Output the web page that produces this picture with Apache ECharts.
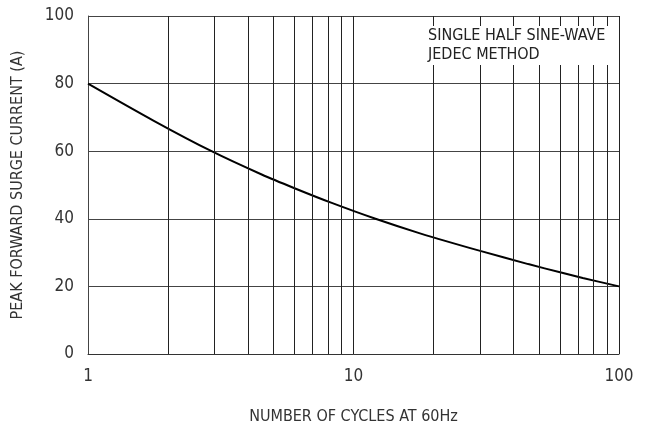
<!DOCTYPE html>
<html>
<head>
<meta charset="utf-8">
<script src="https://cdn.jsdelivr.net/npm/echarts@6/dist/echarts.min.js"></script>
<style>
  html, body { margin: 0; padding: 0; background: #fff; }
  #chart { width: 646px; height: 430px; }
</style>
</head>
<body>
<div id="chart"></div>
<script>
// cycles (log axis) and surge current
var cycles = [1, 1.77, 2.92, 4.51, 6.06, 8.28, 12.1, 17.8, 30, 45.5, 60.5, 73, 100];
var current = [80, 69, 60, 53.1, 48.9, 44.7, 40, 35.7, 30.5, 26.6, 24.1, 22.5, 20];

// minor vertical grid lines
var minorX = [2, 3, 4, 5, 6, 7, 8, 9, 20, 30, 40, 50, 60, 70, 80, 90];
var yTicks = [0, 20, 40, 60, 80, 100];

var textFont = '"DejaVu Sans Condensed", "DejaVu Sans", sans-serif';
var numFont = '"Liberation Sans Narrow", "DejaVu Sans Condensed", sans-serif';

var chart = echarts.init(document.getElementById('chart'));

var curveData = [];
for (var i = 0; i < cycles.length; i++) {
    curveData.push([cycles[i], current[i]]);
}

var option = {
    animation: false,
    backgroundColor: '#fff',
    title: {
        text: 'SINGLE HALF SINE-WAVE\nJEDEC METHOD',
        left: 424,
        top: 26,
        backgroundColor: '#fff',
        padding: [0, 3, 0, 4],
        textStyle: {
            fontFamily: textFont,
            fontSize: 16,
            fontWeight: 'normal',
            color: '#222',
            lineHeight: 19.5
        }
    },
    grid: {
        left: 88,
        right: 27,
        top: 16,
        bottom: 75
    },
    xAxis: {
        type: 'log',
        logBase: 10,
        min: 1,
        max: 100,
        name: 'NUMBER OF CYCLES AT 60Hz',
        nameLocation: 'middle',
        nameGap: 55,
        nameTextStyle: { fontFamily: textFont, fontSize: 16, color: '#333' },
        axisLine: { show: true, lineStyle: { color: '#333', width: 1 } },
        axisTick: { show: false },
        axisLabel: { fontFamily: numFont, fontSize: 17, color: '#333', margin: 14 },
        splitLine: { show: true, lineStyle: { color: '#222', width: 1 } }
    },
    yAxis: {
        type: 'value',
        min: yTicks[0],
        max: yTicks[yTicks.length - 1],
        interval: 20,
        name: 'PEAK FORWARD SURGE CURRENT (A)',
        nameLocation: 'middle',
        nameGap: 62,
        nameTextStyle: { fontFamily: textFont, fontSize: 16, color: '#333' },
        axisLine: { show: true, lineStyle: { color: '#444', width: 1 } },
        axisTick: { show: false },
        axisLabel: { fontFamily: numFont, fontSize: 17, color: '#333', margin: 14 },
        splitLine: { show: true, lineStyle: { color: '#444', width: 1 } }
    },
    series: [
        {
            type: 'line',
            data: curveData,
            smooth: 0.3,
            showSymbol: false,
            lineStyle: { color: '#000', width: 2 },
            markLine: {
                silent: true,
                symbol: 'none',
                label: { show: false },
                animation: false,
                lineStyle: { color: '#222', width: 1, type: 'solid' },
                data: minorX.map(function (v) { return { xAxis: v }; })
            },
            z: 3
        }
    ]
};

chart.setOption(option);
</script>
</body>
</html>
